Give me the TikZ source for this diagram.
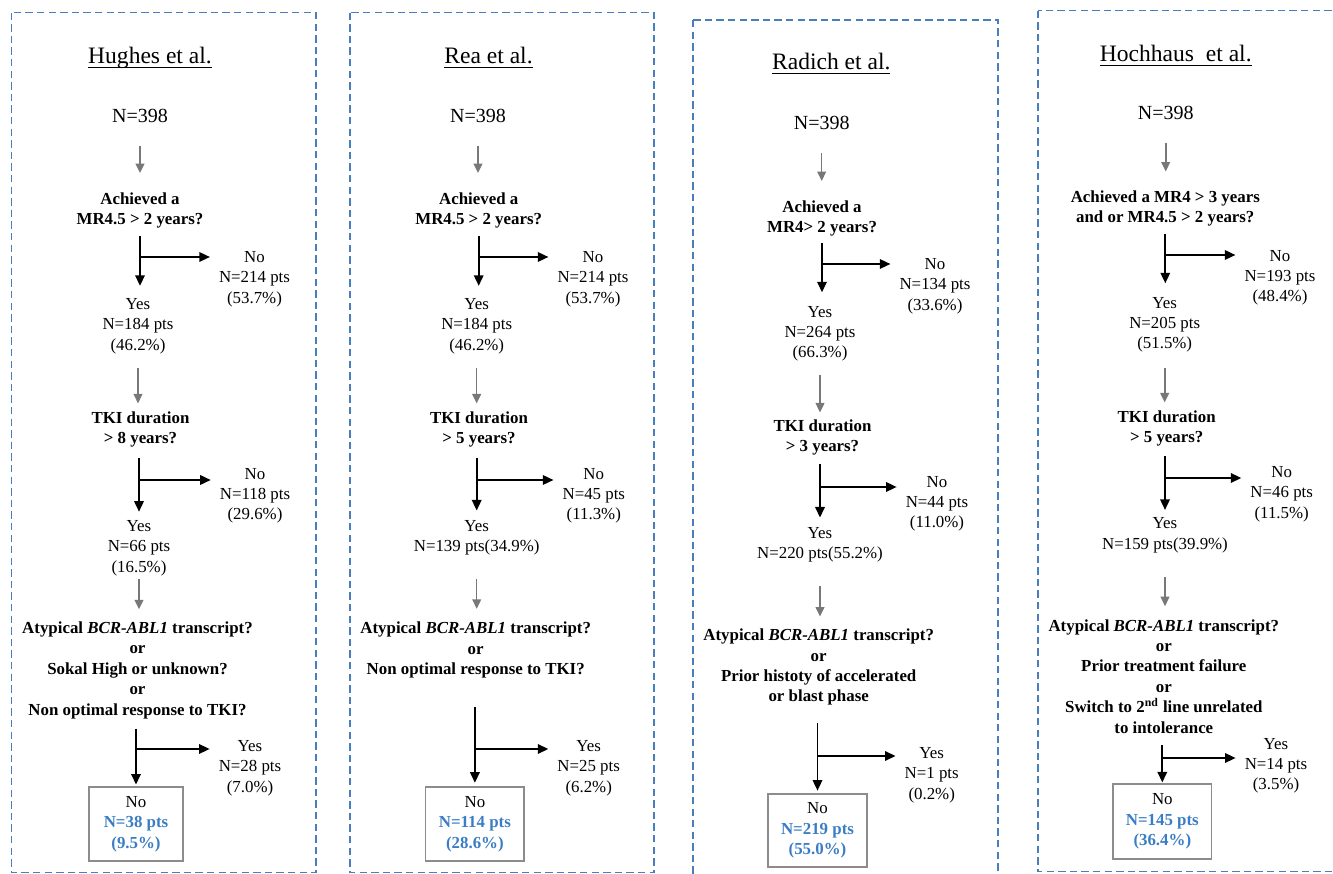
\documentclass[tikz,border=0pt]{standalone}
\usepackage{fontspec}
\setmainfont{Liberation Serif}
\usepackage{tikz}
\usetikzlibrary{arrows.meta}
\usetikzlibrary{calc}

\definecolor{frameblue}{RGB}{74,126,187}
\definecolor{resblue}{RGB}{58,125,196}
\definecolor{arrowgray}{RGB}{120,120,120}
\definecolor{boxgray}{RGB}{140,140,140}

\newcommand{\titleul}[1]{\underline{\raisebox{0pt}[\height][0.8pt]{#1}}}
\newcommand{\remain}[1]{{\bfseries\color{resblue}#1}}

\begin{document}
\begin{tikzpicture}[x = 0.02cm, y = -0.02cm,
                    >={Triangle[length = 6pt, width = 5.4pt]},
                    panelframe/.style = {draw = frameblue, line width = 0.75pt, dash pattern = on 4.2pt off 2.4pt},
                    studytitle/.style = {anchor = base, inner sep = 0pt, font = \fontsize{13.4}{16}\selectfont},
                    total/.style = {anchor = base, inner sep = 0pt, font = \fontsize{11.4}{14}\selectfont},
                    outcome/.style = {align = center, inner sep = 0pt, font = \fontsize{9.6}{11.6}\selectfont},
                    question/.style = {outcome, font = \fontsize{9.6}{11.6}\selectfont\bfseries},
                    finalbox/.style = {outcome, draw = boxgray, line width = 0.8pt, minimum height = 1.48cm},
                    grayflow/.style = {->, draw = arrowgray, line width = 0.9pt,
                                       >={Triangle[length = 5.4pt, width = 5pt]}},
                    blackflow/.style = {->, line width = 1pt}]
    \clip (0,0) rectangle (1333,874);

    % Draw the dashed frames of the four studies:
    \foreach \xa/\ya/\xb/\yb in {11.7/12.7/316/872.7, 350/12.7/654/872.7, 693/20/998/890, 1038/10.7/1350/871.7}
        \draw [panelframe] (\xa,\ya) rectangle (\xb,\yb);

    % Hughes et al.:
    \node [studytitle] (hutitle) at (150,63.3) {\titleul{Hughes et al.}};
    \node [total] (hun) at (140,122.3) {N=398};
    \node [question] (huq1) at (140,210.2) {Achieved a\\MR4.5 > 2 years?};
    \node [outcome] (huno1) at (254.5,279.2) {No\\N=214 pts\\(53.7\%)};
    \node [outcome] (huyes1) at (138,326.2) {Yes\\N=184 pts\\(46.2\%)};
    \node [question] (huq2) at (140.5,429.7) {TKI duration\\> 8 years?};
    \node [outcome] (huno2) at (255,495.7) {No\\N=118 pts\\(29.6\%)};
    \node [outcome] (huyes2) at (139,548.2) {Yes\\N=66 pts\\(16.5\%)};
    \node [question] (huq3) at (137.5,670.2) {Atypical \textit{BCR-ABL1} transcript?\\or\\Sokal High or unknown?\\or\\Non optimal response to TKI?};
    \node [outcome] (huyes3) at (250,768.2) {Yes\\N=28 pts\\(7.0\%)};
    \node [finalbox, minimum width = 1.88cm] (hubox) at (136,824) {No\\\remain{N=38 pts}\\\remain{(9.5\%)}};

    \coordinate (hub1) at (huq1.south |- 0,257);
    \coordinate (hub2) at (huyes2.north |- 0,480);
    \coordinate (hub3) at (hubox.north |- 0,749);
    \draw [grayflow, shorten <= 12.9pt, shorten >= 10.8pt] (hun.south) -- (hun.south |- huq1.north);
    \draw [blackflow, shorten <= 4.4pt, shorten >= 7pt] (huq1.south) -- (huq1.south |- huyes1.north);
    \draw [blackflow, shorten >= 5pt] (hub1) -- (hub1 -| huno1.west);
    \draw [grayflow, shorten <= 7.8pt, shorten >= 4.6pt] (huyes1.south) -- (huyes1.south |- huq2.north);
    \draw [blackflow, shorten <= 5.5pt, shorten >= 4.8pt] (huyes2.north |- huq2.south) -- (huyes2.north);
    \draw [blackflow, shorten >= 5pt] (hub2) -- (hub2 -| huno2.west);
    \draw [grayflow, shorten <= 1.6pt, shorten >= 6.9pt] (huyes2.south) -- (huyes2.south |- huq3.north);
    \draw [blackflow, shorten <= 5.5pt, shorten >= 1pt] (hubox.north |- huq3.south) -- (hubox.north);
    \draw [blackflow, shorten >= 5pt] (hub3) -- (hub3 -| huyes3.west);

    % Rea et al.:
    \node [studytitle] (retitle) at (488.5,63.3) {\titleul{Rea et al.}};
    \node [total] (ren) at (478,122.3) {N=398};
    \node [question] (req1) at (478.7,210.2) {Achieved a\\MR4.5 > 2 years?};
    \node [outcome] (reno1) at (593,279.2) {No\\N=214 pts\\(53.7\%)};
    \node [outcome] (reyes1) at (476.7,326.2) {Yes\\N=184 pts\\(46.2\%)};
    \node [question] (req2) at (479,429.7) {TKI duration\\> 5 years?};
    \node [outcome] (reno2) at (593.8,495.7) {No\\N=45 pts\\(11.3\%)};
    \node [outcome] (reyes2) at (476.7,537.7) {Yes\\N=139 pts(34.9\%)};
    \node [question] (req3) at (475.7,650.2) {Atypical \textit{BCR-ABL1} transcript?\\or\\Non optimal response to TKI?};
    \node [outcome] (reyes3) at (588.7,768.2) {Yes\\N=25 pts\\(6.2\%)};
    \node [finalbox, minimum width = 1.97cm] (rebox) at (474.9,824) {No\\\remain{N=114 pts}\\\remain{(28.6\%)}};

    \coordinate (reb1) at (req1.south |- 0,257);
    \coordinate (reb2) at (reyes2.north |- 0,480);
    \coordinate (reb3) at (rebox.north |- 0,749);
    \draw [grayflow, shorten <= 12.9pt, shorten >= 10.8pt] (ren.south) -- (ren.south |- req1.north);
    \draw [blackflow, shorten <= 4.4pt, shorten >= 7pt] (req1.south) -- (req1.south |- reyes1.north);
    \draw [blackflow, shorten >= 5pt] (reb1) -- (reb1 -| reno1.west);
    \draw [grayflow, shorten <= 7.8pt, shorten >= 4.6pt] (reyes1.south) -- (reyes1.south |- req2.north);
    \draw [blackflow, shorten <= 5.5pt, shorten >= 5.3pt] (reyes2.north |- req2.south) -- (reyes2.north);
    \draw [blackflow, shorten >= 5pt] (reb2) -- (reb2 -| reno2.west);
    \draw [grayflow, shorten <= 13.5pt, shorten >= 7.4pt] (reyes2.south) -- (reyes2.south |- req3.north);
    \draw [blackflow, shorten <= 16.3pt, shorten >= 2pt] (rebox.north |- req3.south) -- (rebox.north);
    \draw [blackflow, shorten >= 5pt] (reb3) -- (reb3 -| reyes3.west);

    % Radich et al.:
    \node [studytitle] (ratitle) at (831.3,69.3) {\titleul{Radich et al.}};
    \node [total] (ran) at (821.7,130) {N=398};
    \node [question] (raq1) at (822,218.2) {Achieved a\\MR4> 2 years?};
    \node [outcome] (rano1) at (935,286.2) {No\\N=134 pts\\(33.6\%)};
    \node [outcome] (rayes1) at (820,333.7) {Yes\\N=264 pts\\(66.3\%)};
    \node [question] (raq2) at (822.5,437.7) {TKI duration\\> 3 years?};
    \node [outcome] (rano2) at (937,503.7) {No\\N=44 pts\\(11.0\%)};
    \node [outcome] (rayes2) at (820,544.7) {Yes\\N=220 pts(55.2\%)};
    \node [question] (raq3) at (818.7,667.2) {Atypical \textit{BCR-ABL1} transcript?\\or\\Prior histoty of accelerated\\or blast phase};
    \node [outcome] (rayes3) at (931.7,775.2) {Yes\\N=1 pts\\(0.2\%)};
    \node [finalbox, minimum width = 1.98cm, minimum height = 1.46cm] (rabox) at (817.5,830.5) {No\\\remain{N=219 pts}\\\remain{(55.0\%)}};

    \coordinate (rab1) at (raq1.south |- 0,264);
    \coordinate (rab2) at (rayes2.north |- 0,487);
    \coordinate (rab3) at (rabox.north |- 0,756);
    \draw [grayflow, shorten <= 13pt, shorten >= 10.8pt] (ran.south) -- (ran.south |- raq1.north);
    \draw [blackflow, shorten <= 3.8pt, shorten >= 7.6pt] (raq1.south) -- (raq1.south |- rayes1.north);
    \draw [blackflow, shorten >= 5pt] (rab1) -- (rab1 -| rano1.west);
    \draw [grayflow, shorten <= 7.8pt, shorten >= 4pt] (rayes1.south) -- (rayes1.south |- raq2.north);
    \draw [blackflow, shorten <= 4.4pt, shorten >= 5.3pt] (rayes2.north |- raq2.south) -- (rayes2.north);
    \draw [blackflow, shorten >= 5pt] (rab2) -- (rab2 -| rano2.west);
    \draw [grayflow, shorten <= 13.5pt, shorten >= 6.9pt] (rayes2.south) -- (rayes2.south |- raq3.north);
    \draw [blackflow, shorten <= 10pt, shorten >= 1.5pt] (rabox.north |- raq3.south) -- (rabox.north);
    \draw [blackflow, shorten >= 5pt] (rab3) -- (rab3 -| rayes3.west);

    % Hochhaus et al.:
    \node [studytitle] (hotitle) at (1175.8,61.7) {\titleul{Hochhaus\ \ et al.}};
    \node [total] (hon) at (1165.7,120) {N=398};
    \node [question] (hoq1) at (1165.3,208.7) {Achieved a MR4 > 3 years\\and or MR4.5 > 2 years?};
    \node [outcome] (hono1) at (1280,277.7) {No\\N=193 pts\\(48.4\%)};
    \node [outcome] (hoyes1) at (1164.7,324.7) {Yes\\N=205 pts\\(51.5\%)};
    \node [question] (hoq2) at (1166.7,428.7) {TKI duration\\> 5 years?};
    \node [outcome] (hono2) at (1281.7,494.2) {No\\N=46 pts\\(11.5\%)};
    \node [outcome] (hoyes2) at (1165,535.2) {Yes\\N=159 pts(39.9\%)};
    \node [question] (hoq3) at (1163.8,676.4) {Atypical \textit{BCR-ABL1} transcript?\\or\\Prior treatment failure\\or\\Switch to 2\textsuperscript{nd} line unrelated\\to intolerance};
    \node [outcome] (hoyes3) at (1276,765.7) {Yes\\N=14 pts\\(3.5\%)};
    \node [finalbox, minimum width = 1.97cm, minimum height = 1.5cm] (hobox) at (1162.3,821.5) {No\\\remain{N=145 pts}\\\remain{(36.4\%)}};

    \coordinate (hob1) at (hoq1.south |- 0,255);
    \coordinate (hob2) at (hoyes2.north |- 0,478);
    \coordinate (hob3) at (hobox.north |- 0,758);
    \draw [grayflow, shorten <= 13pt, shorten >= 10.8pt] (hon.south) -- (hon.south |- hoq1.north);
    \draw [blackflow, shorten <= 3.8pt, shorten >= 7.6pt] (hoq1.south) -- (hoq1.south |- hoyes1.north);
    \draw [blackflow, shorten >= 5pt] (hob1) -- (hob1 -| hono1.west);
    \draw [grayflow, shorten <= 8.4pt, shorten >= 4.6pt] (hoyes1.south) -- (hoyes1.south |- hoq2.north);
    \draw [blackflow, shorten <= 4.9pt, shorten >= 4.2pt] (hoyes2.north |- hoq2.south) -- (hoyes2.north);
    \draw [blackflow, shorten >= 5pt] (hob2) -- (hob2 -| hono2.west);
    \draw [grayflow, shorten <= 13.5pt, shorten >= 7.4pt] (hoyes2.south) -- (hoyes2.south |- hoq3.north);
    \draw [blackflow, shorten <= 6.5pt, shorten >= 0.5pt] (hobox.north |- hoq3.south) -- (hobox.north);
    \draw [blackflow, shorten >= 5pt] (hob3) -- (hob3 -| hoyes3.west);
\end{tikzpicture}
\end{document}
